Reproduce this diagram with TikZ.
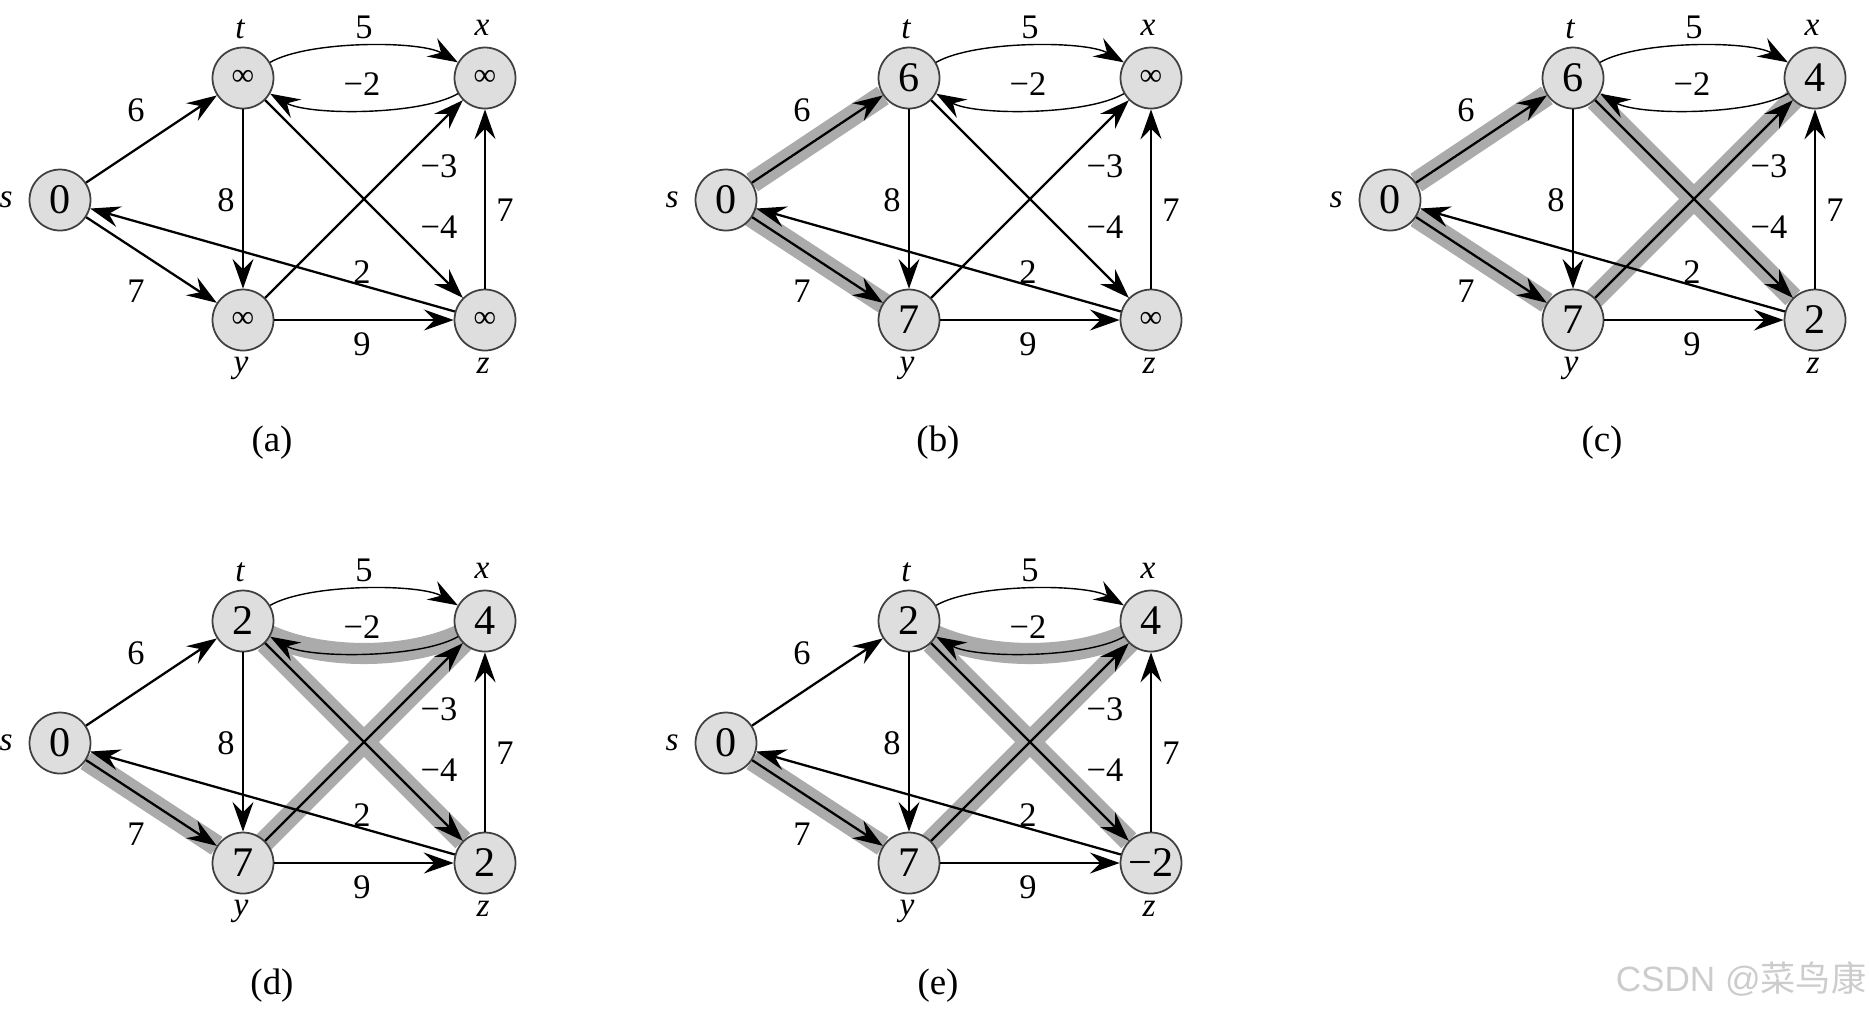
\documentclass[tikz,border=0pt]{standalone}
\usepackage{fontspec}
\setmainfont{Liberation Serif}
\newfontfamily\wmfont{Liberation Sans}
\newfontfamily\cjk{Noto Sans CJK SC}
\usetikzlibrary{arrows.meta,backgrounds}
\definecolor{nodegray}{gray}{0.87}
\definecolor{pathgray}{gray}{0.67}
\definecolor{markgray}{gray}{0.80}
\newcommand{\infval}{{\fontsize{9}{10}\selectfont ∞}}
% one stage of the run: prefix, shift, then the values at s,t,x,y,z
\newcommand{\bfpanel}[7]{%
\begin{scope}[shift={#2}]
\node[vtx] (#1-s) at (60,200) {#3};
\node[vtx] (#1-t) at (243,78) {#4};
\node[vtx] (#1-x) at (485,78) {#5};
\node[vtx] (#1-y) at (243,320) {#6};
\node[vtx] (#1-z) at (485,320) {#7};
\node[nm] (#1-ns) at (6,200) {s};
\node[nm] (#1-nt) at (240,29) {t};
\node[nm] (#1-nx) at (482,28) {x};
\node[nm] (#1-ny) at (241,368) {y};
\node[nm] (#1-nz) at (483,366) {z};
\draw[link] (#1-s) -- (#1-t);
\draw[link] (#1-s) -- (#1-y);
\draw[link,lite] (#1-t) to[bend left=30,looseness=.6] (#1-x);
\draw[link,lite] (#1-x) to[bend left=30,looseness=.6] (#1-t);
\draw[link,lite] (#1-t) -- (#1-y);
\draw[link] (#1-t) -- (#1-z);
\draw[link] (#1-y) -- (#1-x);
\draw[link,lite] (#1-y) -- (#1-z);
\draw[link,lite] (#1-z) -- (#1-x);
\draw[link] (#1-z) -- (#1-s);
\node[lbl] (#1-st) at (136,110) {6};
\node[lbl] (#1-sy) at (136,291) {7};
\node[lbl] (#1-tx) at (364,27) {5};
\node[lbl] (#1-xt) at (362,84) {−2};
\node[lbl] (#1-ty) at (226,200) {8};
\node[lbl] (#1-yx) at (439,166) {−3};
\node[lbl] (#1-tz) at (439,227) {−4};
\node[lbl] (#1-zx) at (505,210) {7};
\node[lbl] (#1-zs) at (362,272) {2};
\node[lbl] (#1-yz) at (362,344) {9};
\node[caption] (#1-cap) at (272,443) {(#1)};
\end{scope}}

\begin{document}
\begin{tikzpicture}[x=0.1mm,y=-0.1mm,
  vtx/.style={circle,draw=black!75,line width=0.5pt,fill=nodegray,
    minimum size=6.1mm,inner sep=0pt,font=\fontsize{12}{13}\selectfont},
  nm/.style={inner sep=0pt,font=\fontsize{9.5}{11}\selectfont\itshape},
  lbl/.style={inner sep=0pt,font=\fontsize{9.8}{11}\selectfont},
  caption/.style={font=\fontsize{10.5}{12}\selectfont},
  link/.style={line width=0.65pt,-{Stealth[length=8.5pt,width=6pt,inset=3pt]}},
  lite/.style={line width=0.4pt},
  hl/.style={draw=pathgray,line width=6pt,shorten <=-1.5mm,shorten >=-1.5mm}]
\useasboundingbox (0,0) rectangle (1869,1011);
\bfpanel{a}{(0,0)}{0}{\infval}{\infval}{\infval}{\infval}
\bfpanel{b}{(666,0)}{0}{6}{\infval}{7}{\infval}
\bfpanel{c}{(1330,0)}{0}{6}{4}{7}{2}
\bfpanel{d}{(0,543)}{0}{2}{4}{7}{2}
\bfpanel{e}{(666,543)}{0}{2}{4}{7}{−2}
% shortest-path edges in gray
\begin{scope}[on background layer]
\draw[hl] (b-s) -- (b-t) (b-s) -- (b-y);
\draw[hl] (c-s) -- (c-t) (c-s) -- (c-y) (c-t) -- (c-z) (c-y) -- (c-x);
\draw[hl] (d-s) -- (d-y) (d-t) -- (d-z) (d-y) -- (d-x);
\draw[hl] (d-x) to[bend left=30,looseness=.68] (d-t);
\draw[hl] (e-s) -- (e-y) (e-t) -- (e-z) (e-y) -- (e-x);
\draw[hl] (e-x) to[bend left=30,looseness=.68] (e-t);
\end{scope}
\node[text=markgray,font=\wmfont\fontsize{10}{12}\selectfont] (mark) at (1741,979)
  {CSDN @{\cjk 菜鸟康}};
\end{tikzpicture}
\end{document}
